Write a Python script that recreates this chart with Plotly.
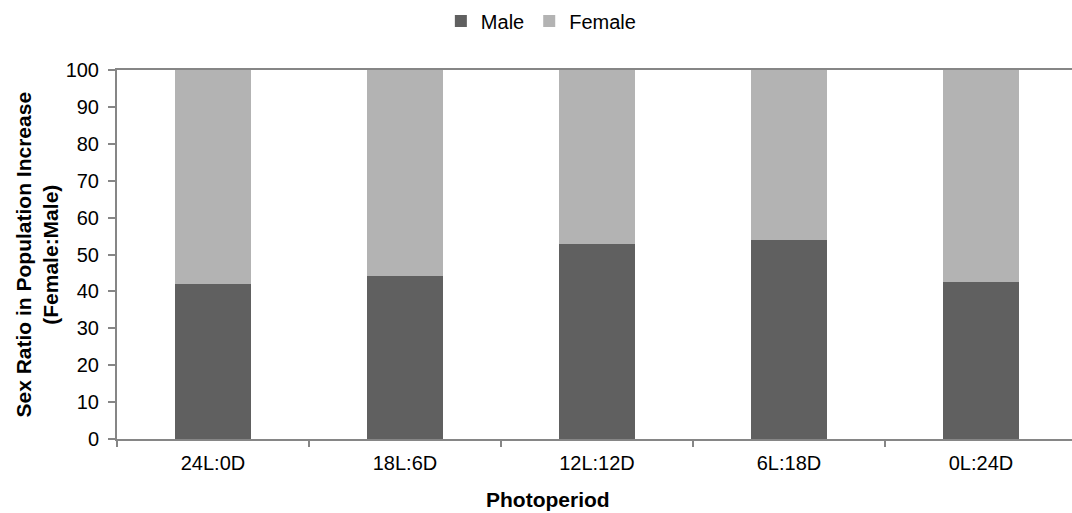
import plotly.graph_objects as go

# Photoperiod treatments and sex ratio (%) of the population increase
photoperiods = ["24L:0D", "18L:6D", "12L:12D", "6L:18D", "0L:24D"]
male_pct = [42.0, 44.3, 52.8, 53.8, 42.5]
female_pct = [100 - m for m in male_pct]
y_ticks = list(range(0, 101, 10))

MALE_COLOR = "#606060"
FEMALE_COLOR = "#b3b3b3"
AXIS_COLOR = "#868686"
FONT = "Liberation Sans, Arial, sans-serif"
TXT = 20
TITLE = 21

W, H = 1072, 513
M_L, M_R, M_T, M_B = 117, 0, 70, 74

fig = go.Figure()
fig.add_trace(go.Bar(x=photoperiods, y=male_pct, name="Male",
                     marker=dict(color=MALE_COLOR, line=dict(width=0))))
fig.add_trace(go.Bar(x=photoperiods, y=female_pct, name="Female",
                     marker=dict(color=FEMALE_COLOR, line=dict(width=0))))

# category width is 192 px; the plot runs a little past the right edge
cat_px = 192.0
x_hi = -0.5 + (W - M_L - M_R) / cat_px

fig.update_layout(
    width=W, height=H,
    margin=dict(l=M_L, r=M_R, t=M_T, b=M_B),
    paper_bgcolor="white", plot_bgcolor="white",
    barmode="stack", bargap=0.6,
    font=dict(family=FONT, size=TXT, color="#000000"),
    showlegend=True,
    legend=dict(orientation="h", xref="container", yref="container",
                x=0.505, xanchor="center", y=1 - 21 / H, yanchor="middle",
                font=dict(size=TXT), itemwidth=30, traceorder="normal",
                bgcolor="rgba(0,0,0,0)"),
    xaxis=dict(range=[-0.5, x_hi], showline=True, linecolor=AXIS_COLOR,
               linewidth=2, mirror=True, ticks="outside", ticklen=6,
               tickcolor=AXIS_COLOR, tickwidth=2, tickson="boundaries",
               ticklabelstandoff=5,
               showgrid=False, zeroline=False, fixedrange=True,
               tickfont=dict(size=TXT)),
    yaxis=dict(range=[0, 100], tickvals=y_ticks, showline=True,
               linecolor=AXIS_COLOR, linewidth=2, ticks="outside",
               ticklen=7, tickcolor=AXIS_COLOR, tickwidth=2,
               ticklabelstandoff=5,
               showgrid=False, zeroline=False, fixedrange=True,
               tickfont=dict(size=TXT)),
    annotations=[
        dict(text="<b>Sex Ratio in Population Increase<br>(Female:Male)</b>",
             xref="paper", yref="paper", x=0, y=0.5, xshift=-81,
             xanchor="center", yanchor="middle", textangle=-90,
             showarrow=False, font=dict(size=TITLE, color="#000000")),
        dict(text="<b>Photoperiod</b>",
             xref="paper", yref="paper", x=(548 - M_L) / (W - M_L - M_R),
             y=0, yshift=-60, xanchor="center", yanchor="middle",
             showarrow=False, font=dict(size=TITLE, color="#000000")),
    ],
)

fig.write_html("out.html")
